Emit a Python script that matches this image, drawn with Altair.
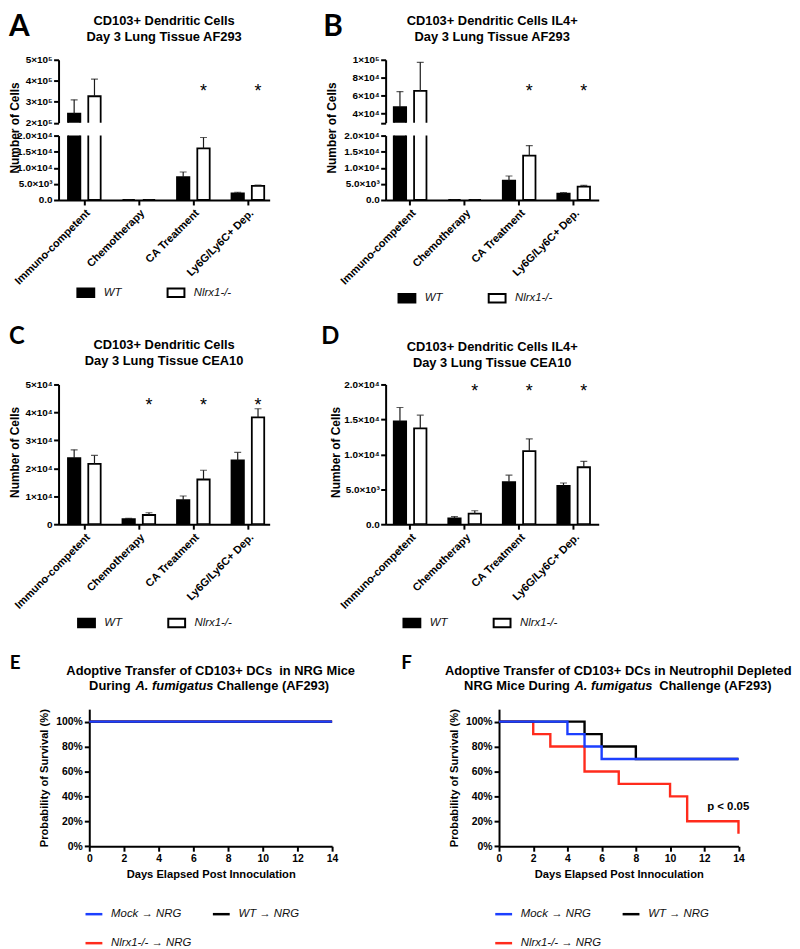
import altair as alt
import pandas as pd

# ---------------- data ----------------
categories = ["Immuno-competent", "Chemotherapy", "CA Treatment", "Ly6G/Ly6C+ Dep."]
genotypes = ["WT", "Nlrx1-/-"]
genotype_fill = ["black", "white"]

# Panel A: CD103+ DCs, AF293 (mean, top of error bar)
a_wt = [243000, 0, 7100, 2060]
a_wt_top = [309000, 0, 8700, 2400]
a_ko = [326000, 0, 16000, 4400]
a_ko_top = [408000, 0, 19400, 4600]
a_stars = ["CA Treatment", "Ly6G/Ly6C+ Dep."]

# Panel B: CD103+ DCs IL4+, AF293
b_wt = [47300, 0, 6000, 1980]
b_wt_top = [64600, 0, 7450, 2300]
b_ko = [65300, 0, 13800, 4150]
b_ko_top = [97100, 0, 16900, 4550]
b_stars = ["CA Treatment", "Ly6G/Ly6C+ Dep."]

# Panel C: CD103+ DCs, CEA10
c_wt = [23600, 1800, 8600, 22800]
c_wt_top = [26600, 2100, 10100, 25700]
c_ko = [21600, 3300, 16000, 38200]
c_ko_top = [24600, 4100, 19300, 41300]
c_stars = ["Chemotherapy", "CA Treatment", "Ly6G/Ly6C+ Dep."]

# Panel D: CD103+ DCs IL4+, CEA10
d_wt = [14700, 850, 6030, 5500]
d_wt_top = [16700, 1090, 7020, 5900]
d_ko = [13700, 1510, 10450, 8150]
d_ko_top = [15600, 1930, 12200, 9000]
d_stars = ["Chemotherapy", "CA Treatment", "Ly6G/Ly6C+ Dep."]

# Survival (Kaplan-Meier steps)
surv_groups = ["Mock \u2192 NRG", "WT \u2192 NRG", "Nlrx1-/- \u2192 NRG"]
surv_colors = ["#1c3fff", "black", "#ff2b1c"]
e_days = {"Mock \u2192 NRG": [0, 14], "WT \u2192 NRG": [0, 14], "Nlrx1-/- \u2192 NRG": [0, 14]}
e_surv = {"Mock \u2192 NRG": [100, 100], "WT \u2192 NRG": [100, 100], "Nlrx1-/- \u2192 NRG": [100, 100]}
f_days = {"Mock \u2192 NRG": [0, 4, 5, 6, 14],
          "WT \u2192 NRG": [0, 5, 6, 8, 14],
          "Nlrx1-/- \u2192 NRG": [0, 2, 3, 5, 7, 10, 11, 14]}
f_surv = {"Mock \u2192 NRG": [100, 90, 80, 70, 70],
          "WT \u2192 NRG": [100, 90, 80, 70, 70],
          "Nlrx1-/- \u2192 NRG": [100, 90, 80, 60, 50, 40, 20, 10]}

# texts
a_title = ["CD103+ Dendritic Cells", "Day 3 Lung Tissue AF293"]
b_title = ["CD103+ Dendritic Cells IL4+", "Day 3 Lung Tissue AF293"]
c_title = ["CD103+ Dendritic Cells", "Day 3 Lung Tissue CEA10"]
d_title = ["CD103+ Dendritic Cells IL4+", "Day 3 Lung Tissue CEA10"]
e_title1 = "Adoptive Transfer of CD103+ DCs\u00a0 in NRG Mice"
e_title2 = ["During", "A. fumigatus", "Challenge (AF293)"]
f_title1 = "Adoptive Transfer of CD103+ DCs in Neutrophil Depleted"
f_title2 = ["NRG Mice During", "A. fumigatus", "Challenge (AF293)"]
p_text = "p < 0.05"

FONT = "Liberation Sans"
LETTER_FONT = "Lato"


def bar_frame(wt, wt_top, ko, ko_top):
    rows = []
    for i, c in enumerate(categories):
        rows.append({"cat": c, "geno": "WT", "val": wt[i], "err": wt_top[i]})
        rows.append({"cat": c, "geno": "Nlrx1-/-", "val": ko[i], "err": ko_top[i]})
    return pd.DataFrame(rows)


def surv_frame(days, surv):
    rows = []
    for g in ["Nlrx1-/- \u2192 NRG", "WT \u2192 NRG", "Mock \u2192 NRG"]:
        for d, s in zip(days[g], surv[g]):
            rows.append({"group": g, "day": d, "surv": s})
    return pd.DataFrame(rows)


def label_expr(values, labels):
    expr = "''"
    for v, l in reversed(list(zip(values, labels))):
        expr = f"datum.value == {v} ? '{l}' : {expr}"
    return expr


def txt(s, x, y, size=13, weight="bold", style="normal", align="center",
        baseline="middle", font=FONT):
    return alt.Chart(pd.DataFrame({"t": [s]})).mark_text(
        font=font, fontSize=size, fontWeight=weight, fontStyle=style,
        align=align, baseline=baseline, color="black"
    ).encode(x=alt.value(x), y=alt.value(y), text="t:N")


def x_enc(po, align, show_axis):
    axis = (alt.Axis(labelAngle=315, labelFontSize=11, labelPadding=2, tickSize=5,
                     labelLimit=300, labelOverlap=False) if show_axis else None)
    return alt.X("cat:N", sort=categories, title=None, axis=axis,
                 scale=alt.Scale(domain=categories, paddingInner=0.2545,
                                 paddingOuter=po, align=align))


XO = alt.XOffset("geno:N", sort=genotypes,
                 scale=alt.Scale(domain=genotypes, paddingInner=0, paddingOuter=0))


def y_axis(values, labels, title=None, title_x=None, title_y=None):
    kw = dict(values=values, labelExpr=label_expr(values, labels), labelFontSize=10,
              tickSize=5, labelPadding=1.5, labelOverlap=False)
    if title:
        kw.update(title=title, titleX=title_x, titleY=title_y, titleAngle=270,
                  titleAlign="center", titleBaseline="middle", titleFontSize=12)
    else:
        kw.update(title=None)
    return alt.Axis(**kw)


def bar_legend(lx, ly):
    return alt.Legend(title=None, orient="none", legendX=lx, legendY=ly,
                      direction="horizontal", columns=2, columnPadding=42,
                      symbolType="M-1,-0.5H1V0.5H-1Z", symbolSize=289,
                      symbolStrokeColor="black", symbolStrokeWidth=2,
                      labelOffset=8.5, labelFont=FONT, labelFontStyle="italic",
                      labelFontWeight="normal", labelFontSize=11.5, labelColor="#111111",
                      padding=0)


def bar_layers(df, xs, domain, axis, legend):
    yscale = alt.Scale(domain=domain, nice=False, zero=False)
    yv = alt.Y("val:Q", scale=yscale, axis=axis)
    fill = alt.Fill("geno:N", sort=genotypes,
                    scale=alt.Scale(domain=genotypes, range=genotype_fill), legend=legend)
    bars = alt.Chart(df).mark_bar(size=12.5, stroke="black", strokeWidth=1.8, clip=True).encode(
        x=xs, xOffset=XO, y=yv, y2=alt.datum(0), fill=fill)
    rules = alt.Chart(df).mark_rule(color="#1a1a1a", strokeWidth=1.2, clip=True).encode(
        x=xs, xOffset=XO, y=yv, y2="err:Q")
    caps = alt.Chart(df).mark_tick(orient="horizontal", size=7, thickness=1.2,
                                   color="#1a1a1a", clip=True).encode(
        x=xs, xOffset=XO, y=alt.Y("err:Q", scale=yscale, axis=axis))
    return [bars, rules, caps]


def stars(cats, xs, ypx):
    df = pd.DataFrame({"cat": cats, "geno": ["Nlrx1-/-"] * len(cats)})
    return alt.Chart(df).mark_text(text="*", fontSize=18, font=FONT, baseline="alphabetic",
                                   color="black").encode(x=xs, xOffset=XO, y=alt.value(ypx + 10.4))


def res(ch):
    return ch.resolve_scale(x="independent", y="independent", xOffset="independent",
                            fill="independent", color="independent").resolve_legend(
        fill="independent", color="independent").resolve_axis(x="independent", y="independent")


LW, RW = 213, 215
L_PO, L_AL = 0.0636, 0.786
R_PO, R_AL = 0.0818, 0.467
UP_H, LOW_H, GAP = 63.5, 65, 12.5

low_vals = [0, 5000, 10000, 15000, 20000]
low_labs = ["0.0", "5.0\u00d710\u00b3", "1.0\u00d710\u2074", "1.5\u00d710\u2074", "2.0\u00d710\u2074"]

# ---- Panel A ----
dfA = bar_frame(a_wt, a_wt_top, a_ko, a_ko_top)
xA0, xA1 = x_enc(L_PO, L_AL, False), x_enc(L_PO, L_AL, True)
A_up = alt.layer(
    *bar_layers(dfA, xA0, [200000, 500000],
                y_axis([200000, 300000, 400000, 500000],
                       ["2\u00d710\u2075", "3\u00d710\u2075", "4\u00d710\u2075", "5\u00d710\u2075"]), None),
    stars(a_stars, xA0, 27.5),
    txt("A", -50, -23.7, size=30, align="left", baseline="alphabetic", font=LETTER_FONT),
    txt(a_title[0], LW / 2, -38.7), txt(a_title[1], LW / 2, -22.7),
).properties(width=LW, height=UP_H)
A_low = alt.layer(
    *bar_layers(dfA, xA1, [0, 20000],
                y_axis(low_vals, low_labs, "Number of Cells", -44, -8.2), bar_legend(18, 149))
).properties(width=LW, height=LOW_H)
A = res(alt.vconcat(A_up, A_low, spacing=GAP, bounds="flush"))

# ---- Panel B ----
dfB = bar_frame(b_wt, b_wt_top, b_ko, b_ko_top)
xB0, xB1 = x_enc(R_PO, R_AL, False), x_enc(R_PO, R_AL, True)
B_up = alt.layer(
    *bar_layers(dfB, xB0, [30000, 100000],
                y_axis([30000, 40000, 60000, 80000, 100000],
                       ["", "4\u00d710\u2074", "6\u00d710\u2074", "8\u00d710\u2074", "1\u00d710\u2075"]), None),
    stars(b_stars, xB0, 27.5),
    txt("B", -63, -23.7, size=30, align="left", baseline="alphabetic", font=LETTER_FONT),
    txt(b_title[0], RW / 2, -38.7), txt(b_title[1], RW / 2, -22.7),
).properties(width=RW, height=UP_H)
B_low = alt.layer(
    *bar_layers(dfB, xB1, [0, 20000],
                y_axis(low_vals, low_labs, "Number of Cells", -55, -8.2), bar_legend(12, 154.5))
).properties(width=RW, height=LOW_H)
B = res(alt.vconcat(B_up, B_low, spacing=GAP, bounds="flush"))

# ---- Panel C ----
dfC = bar_frame(c_wt, c_wt_top, c_ko, c_ko_top)
xC = x_enc(L_PO, L_AL, True)
C = alt.layer(
    *bar_layers(dfC, xC, [0, 50000],
                y_axis([0, 10000, 20000, 30000, 40000, 50000],
                       ["0", "1\u00d710\u2074", "2\u00d710\u2074", "3\u00d710\u2074", "4\u00d710\u2074", "5\u00d710\u2074"],
                       "Number of Cells", -44, 68), bar_legend(18.7, 231)),
    stars(c_stars, xC, 16.5),
    txt("C", -50, -41.3, size=24, align="left", baseline="alphabetic", font=LETTER_FONT),
    txt(c_title[0], LW / 2, -40), txt(c_title[1], LW / 2, -23.3),
).properties(width=LW, height=141)

# ---- Panel D ----
dfD = bar_frame(d_wt, d_wt_top, d_ko, d_ko_top)
xD = x_enc(R_PO, R_AL, True)
D = alt.layer(
    *bar_layers(dfD, xD, [0, 20000],
                y_axis(low_vals, low_labs, "Number of Cells", -51, 68), bar_legend(17, 231)),
    stars(d_stars, xD, 2.5),
    txt("D", -65, -41.3, size=24, align="left", baseline="alphabetic", font=LETTER_FONT),
    txt(d_title[0], RW / 2, -37.6), txt(d_title[1], RW / 2, -21.6),
).properties(width=RW, height=141)


# ---- Survival panels ----
SH = 138.3
SX_SCALE = alt.Scale(domain=[0, 14], nice=False)
SY_SCALE = alt.Scale(domain=[0, 110], nice=False)


def surv_chart(df, width, with_p=False):
    xaxis = alt.Axis(values=list(range(0, 15, 2)), title="Days Elapsed Post Innoculation",
                     titleFontSize=11.25, titleX=width / 2, titleY=28.8,
                     titleBaseline="middle", titleAlign="center", labelFontSize=10.5,
                     labelFlush=False, labelOverlap=False, tickSize=5, labelPadding=2)
    yaxis = alt.Axis(values=[0, 20, 40, 60, 80, 100], labelExpr="datum.value + '%'",
                     title="Probability of Survival (%)", titleX=-45, titleY=SH / 2,
                     titleAngle=270, titleAlign="center", titleBaseline="middle",
                     titleFontSize=11.25, labelFontSize=10.5, labelOverlap=False,
                     tickSize=5, labelPadding=2)
    x = alt.X("day:Q", scale=SX_SCALE, axis=xaxis)
    y = alt.Y("surv:Q", scale=SY_SCALE, axis=yaxis)
    color = alt.Color("group:N", sort=surv_groups,
                      scale=alt.Scale(domain=surv_groups, range=surv_colors),
                      legend=alt.Legend(title=None, orient="none", legendX=-5.3, legendY=196.6,
                                        direction="horizontal", columns=2, columnPadding=15.5,
                                        rowPadding=13.5, symbolType="stroke", symbolSize=289,
                                        symbolStrokeWidth=2.5, labelOffset=7.3, labelFont=FONT,
                                        labelFontStyle="italic", labelFontWeight="normal",
                                        labelFontSize=11.5, labelColor="#111111", padding=0))
    layers = [alt.Chart(df).mark_line(interpolate="step-after", strokeWidth=2.4).encode(
        x=x, y=y, color=color)]
    if with_p:
        layers.append(alt.Chart(pd.DataFrame({"t": [p_text]})).mark_text(
            font=FONT, fontSize=11.5, fontWeight="bold", color="black").encode(
            x=alt.XDatum(13.4, scale=SX_SCALE, axis=xaxis),
            y=alt.YDatum(31.2, scale=SY_SCALE, axis=yaxis), text="t:N"))
    return layers


EW, FW = 245, 241.6
E = alt.layer(
    *surv_chart(surv_frame(e_days, e_surv), EW),
    txt("E", -80.3, -40.9, size=19, align="left", baseline="alphabetic", font=LETTER_FONT),
    txt(e_title1, EW / 2, -38.9),
    txt(e_title2[0], 41.7, -22.9, align="right"),
    txt(e_title2[1], 86, -22.9, style="italic"),
    txt(e_title2[2], 128.7, -22.9, align="left"),
).properties(width=EW, height=SH)

F = alt.layer(
    *surv_chart(surv_frame(f_days, f_surv), FW, with_p=True),
    txt("F", -98.7, -40.9, size=19, align="left", baseline="alphabetic", font=LETTER_FONT),
    txt(f_title1, 120.3, -38.9),
    txt(f_title2[0], 71.6, -22.9, align="right"),
    txt(f_title2[1], 115.5, -22.9, style="italic"),
    txt(f_title2[2], 161.6, -22.9, align="left"),
).properties(width=FW, height=SH)

spacer = alt.Chart(pd.DataFrame({"v": [0]})).mark_point(opacity=0, size=1).encode(
    x=alt.value(1), y=alt.value(1)).properties(width=30.3, height=10)

# nested concat groups count as zero-size in a flush layout, so the spacings below
# are measured origin-to-origin for nested groups
row1 = res(alt.hconcat(A, B, spacing=330, bounds="flush"))
row2 = res(alt.hconcat(C, D, spacing=117, bounds="flush"))
row3 = res(alt.hconcat(spacer, res(alt.hconcat(E, F, spacing=168.4, bounds="flush")),
                       spacing=0, bounds="flush"))

chart = res(alt.vconcat(row1, row2, row3, spacing=327.6, bounds="flush")).properties(
    padding=0
).configure(background="white").configure_view(stroke=None).configure_axis(
    labelFont=FONT, labelFontWeight="bold", labelColor="black",
    titleFont=FONT, titleFontWeight="bold", titleColor="black",
    domainColor="black", domainWidth=2, tickColor="black", tickWidth=2,
    grid=False, labelOverlap=False
)

chart.save("out.html", embed_options={"renderer": "svg", "actions": False})
